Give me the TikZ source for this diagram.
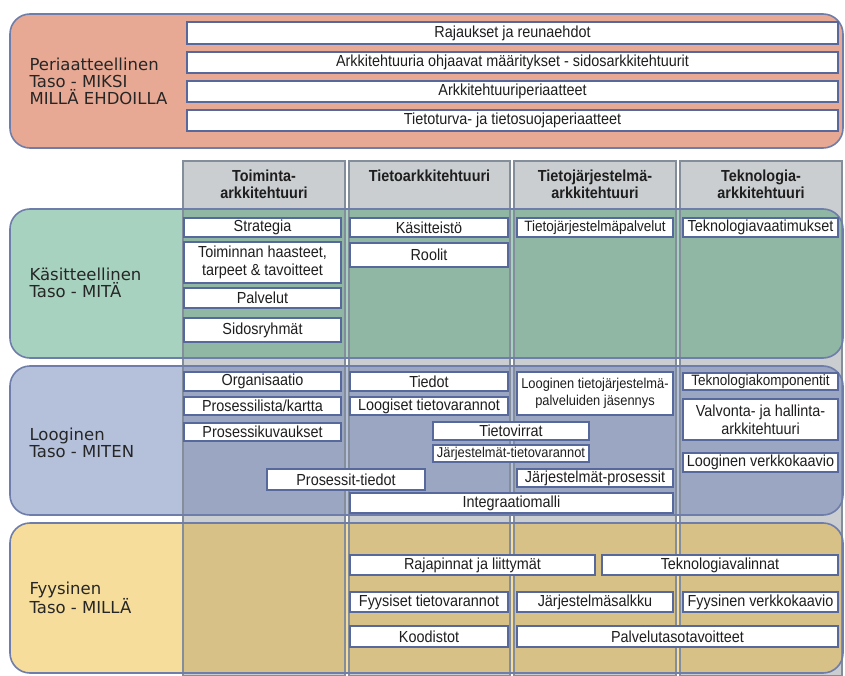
\documentclass[tikz,border=0pt]{standalone}
\usepackage{fontspec}
\setmainfont{Liberation Sans}[FakeStretch=0.9]
\newfontfamily\lblfont{DejaVu Sans}
\definecolor{salmon}{HTML}{E8A994}
\definecolor{lgreen}{HTML}{A8D2C0}
\definecolor{lblue}{HTML}{B5C1DB}
\definecolor{lyellow}{HTML}{F6DD9B}
\definecolor{dgreen}{HTML}{90B6A4}
\definecolor{dblue}{HTML}{9AA6C2}
\definecolor{dyellow}{HTML}{D7C187}
\definecolor{hgray}{HTML}{CACED0}
\definecolor{frame}{HTML}{6E7DAA}
\definecolor{boxline}{HTML}{56689C}
\definecolor{colline}{HTML}{848E9A}
\definecolor{txt}{HTML}{1E1E1E}
\tikzset{
  layerfill/.style={rounded corners=20pt},
  layerline/.style={draw=frame, line width=1.6pt, rounded corners=20pt, inner sep=0pt},
  bx/.style={draw=boxline, line width=2.2pt, fill=white, inner sep=0pt, align=center,
    text=txt, font=\fontsize{16}{18}\selectfont},
  smallbx/.style={font=\fontsize{14.3}{17}\selectfont},
  midbx/.style={font=\fontsize{15}{17}\selectfont},
  colline/.style={draw=colline, line width=1.3pt},
  hdr/.style={align=center, anchor=north, text=txt, font=\bfseries\fontsize{16}{17.5}\selectfont},
  lab/.style={align=left, anchor=west, text=black!85, font=\lblfont\fontsize{16.5}{17}\selectfont}
}
\newcommand\bx[7][]{\node[bx, #1, minimum width={#5-#3}, minimum height={#6-#4}] (#2) at ({(#3+#5)/2},{(#4+#6)/2}) {#7};}
\newcommand\lay[6]{\node[layerline, minimum width={#4-#2}, minimum height={#5-#3}] (#1) at ({(#2+#4)/2},{(#3+#5)/2}) {};}
\newcommand\colrects{(183,161) rectangle (345,676) (349,161) rectangle (510,676) (514,161) rectangle (676,676) (680,161) rectangle (842,676)}
\newcommand\layerwithcols[5]{%
  \fill[#1, layerfill] (10,#3) rectangle (843,#4);
  \begin{scope}
    \clip[layerfill] (10,#3) rectangle (843,#4);
    \fill[#2] \colrects;
  \end{scope}}
\begin{document}
\begin{tikzpicture}[x=1pt,y=-1pt]
\useasboundingbox (0,0) rectangle (845,676);
% top band
\fill[salmon, layerfill] (10,14) rectangle (843,148);
\lay{top}{10}{14}{843}{148}{}
% column background (header and gaps)
\fill[hgray] \colrects;
% layers with darker column areas
\layerwithcols{lgreen}{dgreen}{209}{358}{}
\layerwithcols{lblue}{dblue}{366}{515}{}
\layerwithcols{lyellow}{dyellow}{523}{673}{}
% column outlines
\draw[colline] \colrects;
% layer outlines
\lay{kas}{10}{209}{843}{358}{}
\lay{loo}{10}{366}{843}{515}{}
\lay{fyy}{10}{523}{843}{673}{}
% headers
\node[hdr] (h1) at (264,166) {Toiminta-\\arkkitehtuuri};
\node[hdr] (h2) at (429.5,166) {Tietoarkkitehtuuri};
\node[hdr] (h3) at (595,166) {Tietojärjestelmä-\\arkkitehtuuri};
\node[hdr] (h4) at (761,166) {Teknologia-\\arkkitehtuuri};
% labels
\node[lab] (l1) at (26,81) {Periaatteellinen\\Taso - MIKSI\\MILLÄ EHDOILLA};
\node[lab] (l2) at (26,283) {Käsitteellinen\\Taso - MITÄ};
\node[lab] (l3) at (26,443) {Looginen\\Taso - MITEN};
\node[lab] (l4) at (26,598) {Fyysinen\\Taso - MILLÄ};
% top boxes
\bx{r1}{187}{22}{838}{44}{Rajaukset ja reunaehdot}
\bx{r2}{187}{52}{838}{73}{Arkkitehtuuria ohjaavat määritykset - sidosarkkitehtuurit}
\bx{r3}{187}{81}{838}{102}{Arkkitehtuuriperiaatteet}
\bx{r4}{187}{110}{838}{131}{Tietoturva- ja tietosuojaperiaatteet}
% conceptual
\bx{s1}{184}{218}{341}{237}{Strategia}
\bx{s2}{184}{242}{341}{283}{Toiminnan haasteet,\\tarpeet \& tavoitteet}
\bx{s3}{184}{288}{341}{308}{Palvelut}
\bx{s4}{184}{318}{341}{342}{Sidosryhmät}
\bx{k1}{350}{218}{508}{237}{Käsitteistö}
\bx{k2}{350}{243}{508}{267}{Roolit}
\bx[midbx]{t1}{517}{218}{673}{237}{Tietojärjestelmäpalvelut}
\bx{e1}{683}{218}{838}{237}{Teknologiavaatimukset}
% logical
\bx{o1}{184}{372}{341}{391}{Organisaatio}
\bx{o2}{184}{397}{341}{415}{Prosessilista/kartta}
\bx{o3}{184}{423}{341}{441}{Prosessikuvaukset}
\bx{d1}{350}{372}{508}{391}{Tiedot}
\bx{d2}{350}{397}{508}{415}{Loogiset tietovarannot}
\bx[smallbx]{j1}{517}{372}{673}{415}{Looginen tietojärjestelmä-\\palveluiden jäsennys}
\bx[midbx]{p1}{683}{373}{838}{390}{Teknologiakomponentit}
\bx{p2}{683}{399}{838}{440}{Valvonta- ja hallinta-\\arkkitehtuuri}
\bx{p3}{683}{453}{838}{472}{Looginen verkkokaavio}
\bx{v1}{433}{422}{589}{440}{Tietovirrat}
\bx[smallbx]{v2}{433}{445}{589}{462}{Järjestelmät-tietovarannot}
\bx{pt}{267}{469}{425}{490}{Prosessit-tiedot}
\bx{jp}{517}{469}{673}{487}{Järjestelmät-prosessit}
\bx{im}{350}{493}{673}{513}{Integraatiomalli}
% physical
\bx{f1}{350}{555}{595}{575}{Rajapinnat ja liittymät}
\bx{f2}{602}{555}{838}{575}{Teknologiavalinnat}
\bx{f3}{350}{592}{508}{612}{Fyysiset tietovarannot}
\bx{f4}{517}{592}{673}{612}{Järjestelmäsalkku}
\bx{f5}{683}{592}{838}{612}{Fyysinen verkkokaavio}
\bx{f6}{350}{626}{508}{647}{Koodistot}
\bx{f7}{517}{626}{838}{647}{Palvelutasotavoitteet}
\end{tikzpicture}
\end{document}
